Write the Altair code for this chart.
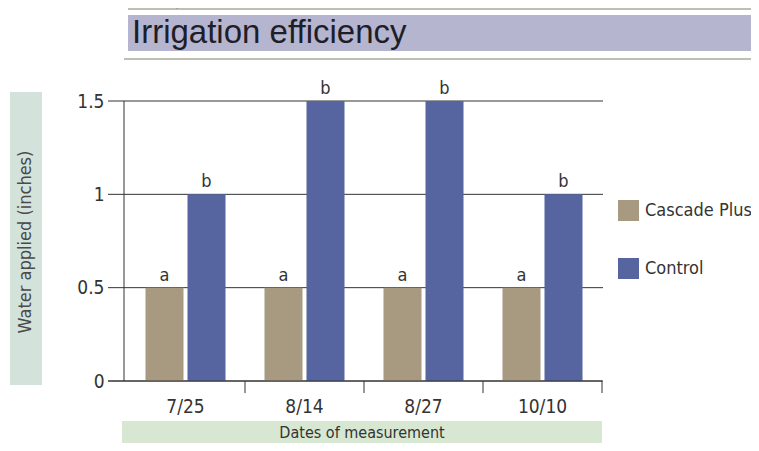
import altair as alt
import pandas as pd

dates = ["7/25", "8/14", "8/27", "10/10"]
groups = ["Cascade Plus", "Control"]
cascade = [0.5, 0.5, 0.5, 0.5]
control = [1.0, 1.5, 1.5, 1.0]
cascade_letters = ["a", "a", "a", "a"]
control_letters = ["b", "b", "b", "b"]
y_ticks = [0, 0.5, 1, 1.5]

rows = []
for i, d in enumerate(dates):
    rows.append({"date": d, "group": groups[0], "value": cascade[i], "letter": cascade_letters[i]})
    rows.append({"date": d, "group": groups[1], "value": control[i], "letter": control_letters[i]})
df = pd.DataFrame(rows)
grid_df = pd.DataFrame({"v": y_ticks})
date_df = pd.DataFrame({"date": dates})

FONT = "DejaVu Sans Condensed, Liberation Sans, sans-serif"
W, H = 476, 280

xscale = alt.Scale(domain=dates, paddingInner=0, paddingOuter=0)
yscale = alt.Scale(domain=[0, 1.5], nice=False)
color_scale = alt.Scale(domain=groups, range=["#a89a80", "#56659f"])
xoff_scale = alt.Scale(domain=groups, paddingInner=0.095, paddingOuter=0.464)

# decorations
deco_df = pd.DataFrame({"k": [0]})
banner = alt.Chart(deco_df).mark_rect(color="#b5b5d0").encode(
    x=alt.value(2), x2=alt.value(640), y=alt.value(-86), y2=alt.value(-50))
banner_text = alt.Chart(deco_df).mark_text(
    text="Irrigation efficiency", font="Liberation Sans, sans-serif", fontSize=33, align="left",
    baseline="middle", color="#1e1e28").encode(x=alt.value(6), y=alt.value(-68))
line_top = alt.Chart(deco_df).mark_rule(color="#a9aa98", strokeWidth=1.5).encode(
    x=alt.value(2), x2=alt.value(640), y=alt.value(-92))
line_bot = alt.Chart(deco_df).mark_rule(color="#a9aa98", strokeWidth=1.5).encode(
    x=alt.value(-2), x2=alt.value(640), y=alt.value(-42))
vline = alt.Chart(deco_df).mark_rule(color="#888888").encode(
    x=alt.value(51), y=alt.value(-93), y2=alt.value(-92))

ybox = alt.Chart(deco_df).mark_rect(color="#d3e3dc").encode(
    x=alt.value(-116), x2=alt.value(-84), y=alt.value(-9), y2=alt.value(284))
ytitle = alt.Chart(deco_df).mark_text(
    text="Water applied (inches)", font=FONT, fontSize=18, angle=270,
    align="center", baseline="middle", color="#4a4a4a").encode(x=alt.value(-100), y=alt.value(141))
xbox = alt.Chart(deco_df).mark_rect(color="#d7e7d2").encode(
    x=alt.value(-4), x2=alt.value(476), y=alt.value(320), y2=alt.value(352))
xtitle = alt.Chart(deco_df).mark_text(
    text="Dates of measurement", font=FONT, fontSize=16, align="center",
    baseline="middle", color="#333333").encode(x=alt.value(236), y=alt.value(332))

grid = alt.Chart(grid_df).mark_rule(color="#333333", strokeWidth=1).encode(
    y=alt.Y("v:Q", scale=yscale,
            axis=alt.Axis(values=y_ticks, title=None, domain=False, ticks=False, grid=False,
                          labelFont=FONT, labelFontSize=19, labelColor="#333333",
                          labelPadding=22, format="~g")),
    x=alt.value(-18), x2=alt.value(477))

yline = alt.Chart(deco_df).mark_rule(color="#333333").encode(
    x=alt.value(-2), y=alt.value(0), y2=alt.value(280))

bars = alt.Chart(df).mark_bar().encode(
    x=alt.X("date:N", sort=dates, scale=xscale,
            axis=alt.Axis(title=None, domain=False, ticks=False, grid=False, labelAngle=0,
                          labelFont=FONT, labelFontSize=19, labelColor="#333333",
                          labelPadding=16)),
    xOffset=alt.XOffset("group:N", sort=groups, scale=xoff_scale),
    y=alt.Y("value:Q", scale=yscale),
    color=alt.Color("group:N", sort=groups, scale=color_scale,
                    legend=alt.Legend(title=None, orient="none", legendX=492, legendY=99,
                                      symbolType="square", symbolSize=441,
                                      symbolStrokeWidth=0, rowPadding=37,
                                      labelFont=FONT, labelFontSize=18,
                                      labelColor="#333333", labelOffset=6)),
)

letters = alt.Chart(df).mark_text(font=FONT, fontSize=18, color="#333333",
                                  baseline="bottom", dy=-3).encode(
    x=alt.X("date:N", sort=dates, scale=xscale),
    xOffset=alt.XOffset("group:N", sort=groups, scale=xoff_scale),
    y=alt.Y("value:Q", scale=yscale),
    text="letter:N")

xdomain = alt.Chart(deco_df).mark_rule(color="#333333").encode(
    x=alt.value(-18), x2=alt.value(476), y=alt.value(280))
xticks = alt.Chart(date_df).mark_rule(color="#333333").encode(
    x=alt.X("date:N", sort=dates, scale=xscale, bandPosition=1),
    y=alt.value(280), y2=alt.value(292))

chart = alt.layer(
    banner, line_top, line_bot, vline, banner_text, ybox, ytitle, xbox, xtitle,
    grid, bars, letters, yline, xdomain, xticks
).properties(
    width=W, height=H,
    background="white",
    autosize=alt.AutoSizeParams(type="none"),
    padding={"left": 118, "top": 93, "right": 149, "bottom": 62},
).configure_view(stroke=None)

chart.save("out.html", embed_options={"renderer": "svg", "actions": False})
